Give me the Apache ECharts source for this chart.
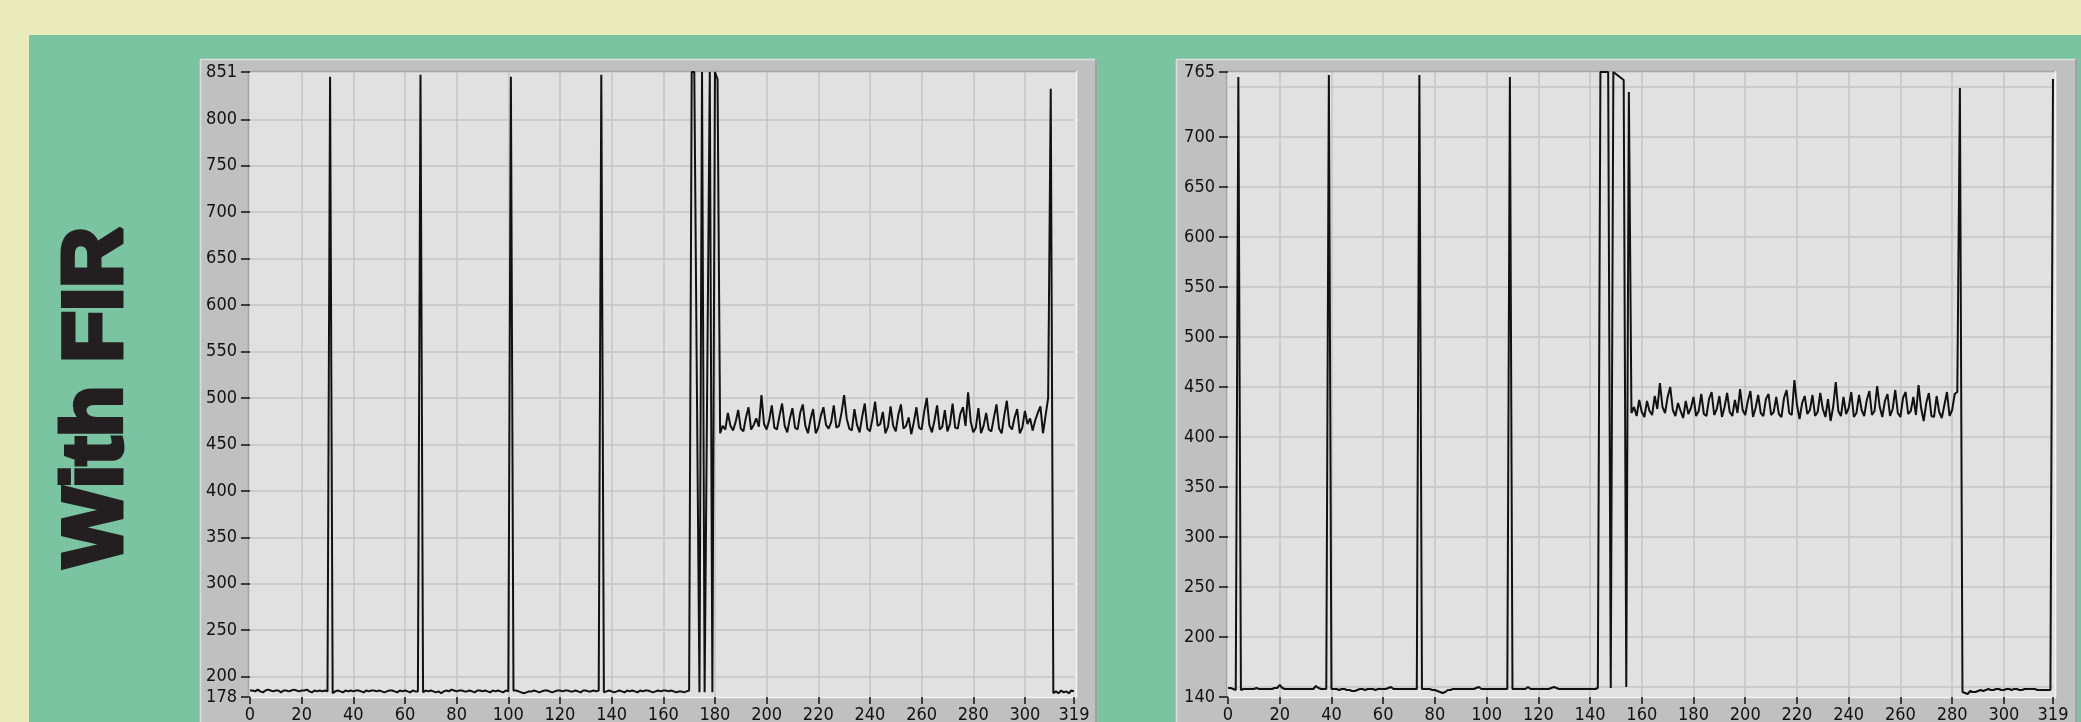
<!DOCTYPE html>
<html>
<head>
<meta charset="utf-8">
<title>With FIR</title>
<script src="https://cdn.jsdelivr.net/npm/echarts@6/dist/echarts.min.js"></script>
<style>
  html, body { margin: 0; padding: 0; background: #eaedbb; }
  #chart { width: 2081px; height: 722px; }
</style>
</head>
<body>
<div id="chart"></div>
<script>
// sample values (index 0..319)
var leftWave = [
  185,185,184,186,184,183,185,186,185,184,
  185,185,183,185,185,184,185,186,185,184,
  185,185,186,184,183,185,184,185,184,185,
  184,846,182,184,185,184,183,185,184,185,
  184,185,185,184,183,185,184,185,185,184,
  185,184,183,184,185,185,184,183,185,184,
  185,184,183,185,184,184,848,183,185,184,
  185,184,183,184,182,184,185,184,186,185,
  184,185,185,184,184,185,184,183,185,185,
  184,185,184,183,185,184,185,184,183,185,
  184,846,185,185,184,183,182,183,184,184,
  185,184,183,184,185,185,184,183,184,185,
  185,184,185,185,184,184,185,184,183,185,
  185,184,184,185,184,185,848,183,184,185,
  184,183,184,185,184,183,185,184,185,184,
  183,185,184,185,185,184,183,184,185,184,
  185,185,184,185,184,183,184,184,183,184,
  185,851,851,515,183,851,183,515,851,183,
  851,843,462,470,466,484,470,465,474,487,
  467,464,479,490,466,471,478,469,503,472,
  466,476,492,468,466,481,494,470,463,478,
  489,468,466,484,493,470,462,477,488,462,
  468,481,490,471,467,474,492,468,470,484,
  503,478,467,465,488,471,463,480,494,467,
  464,478,496,470,472,485,462,469,491,470,
  464,482,493,467,470,479,461,474,490,468,
  466,485,500,471,463,476,492,466,469,487,
  464,472,494,468,467,483,490,470,506,475,
  463,468,489,462,470,484,466,464,479,493,
  467,462,481,497,470,466,479,488,462,468,
  486,472,478,465,476,484,491,462,481,500,
  833,182,184,182,185,183,184,182,185,184
];

var rightWave = [
  149,149,148,147,760,147,148,148,148,148,
  148,149,148,148,148,148,148,148,149,149,
  152,149,148,148,148,148,148,148,148,148,
  148,148,148,148,151,149,148,148,148,762,
  148,148,148,147,148,148,147,147,146,146,
  147,148,148,147,148,148,148,147,148,148,
  148,148,149,150,148,148,148,148,148,148,
  148,148,148,148,762,148,148,148,148,147,
  147,146,145,144,145,147,147,148,148,148,
  148,148,148,148,148,148,149,150,148,148,
  148,148,148,148,148,148,148,148,148,760,
  148,148,148,148,148,148,150,148,148,148,
  148,148,148,148,148,149,150,149,148,148,
  148,148,148,148,148,148,148,148,148,148,
  148,148,148,149,765,765,765,765,149,765,
  763,761,759,757,150,745,424,430,421,437,
  425,420,436,426,422,441,428,454,430,424,
  440,450,427,421,434,426,419,436,423,429,
  440,421,426,443,423,421,438,445,422,428,
  441,420,430,444,425,421,437,424,448,427,
  422,436,446,420,429,442,424,421,438,443,
  422,425,440,423,420,439,447,424,422,457,
  432,418,434,441,423,427,442,421,425,444,
  428,420,438,416,430,455,426,421,440,423,
  429,445,420,424,442,427,421,437,446,422,
  426,451,430,420,436,443,421,428,447,424,
  420,439,445,423,426,440,422,452,429,416,
  434,444,421,420,441,425,419,432,445,421,
  427,443,445,749,145,144,143,146,145,145,
  146,147,146,147,148,147,147,148,148,147,
  147,148,148,147,148,148,147,147,148,148,
  148,148,148,147,147,147,147,147,147,758
];

var xTicks = [0, 20, 40, 60, 80, 100, 120, 140, 160, 180, 200, 220, 240, 260, 280, 300, 319];
var xGrid = [20, 40, 60, 80, 100, 120, 140, 160, 180, 200, 220, 240, 260, 280, 300];
var leftLabels = [178, 200, 250, 300, 350, 400, 450, 500, 550, 600, 650, 700, 750, 800, 851];
var leftGrid = [200, 250, 300, 350, 400, 450, 500, 550, 600, 650, 700, 750, 800];
var rightLabels = [140, 200, 250, 300, 350, 400, 450, 500, 550, 600, 650, 700, 765];
var rightGrid = [150, 200, 250, 300, 350, 400, 450, 500, 550, 600, 650, 700, 750];

var labelFont = '"Liberation Sans Narrow", "DejaVu Sans Condensed", "Liberation Sans", sans-serif';
var gridColor = '#c4c4c4';

function xAxisFor(idx) {
  return {
    type: 'value', gridIndex: idx, min: 0, max: 319,
    axisLine: { show: false },
    axisTick: { show: true, length: 7, customValues: xTicks, lineStyle: { color: '#111', width: 1.5 } },
    axisLabel: { customValues: xTicks, margin: 9, color: '#111', fontSize: 18, fontFamily: labelFont },
    splitLine: { show: false }
  };
}
function xGridAxis(idx) {
  return {
    type: 'value', gridIndex: idx, min: 0, max: 319,
    axisLine: { show: false },
    axisTick: { show: false, customValues: xGrid },
    axisLabel: { show: false },
    splitLine: { show: true, lineStyle: { color: gridColor, width: 1.5 } }
  };
}
function yAxisFor(idx, min, max, labels) {
  return {
    type: 'value', gridIndex: idx, min: min, max: max,
    axisLine: { show: false },
    axisTick: { show: true, length: 9, customValues: labels, lineStyle: { color: '#111', width: 1.5 } },
    axisLabel: { customValues: labels, margin: 13, color: '#111', fontSize: 18, fontFamily: labelFont },
    splitLine: { show: false }
  };
}
function yGridAxis(idx, min, max, lines) {
  return {
    type: 'value', gridIndex: idx, min: min, max: max,
    axisLine: { show: false },
    axisTick: { show: false, customValues: lines },
    axisLabel: { show: false },
    splitLine: { show: true, lineStyle: { color: gridColor, width: 1.5 } }
  };
}

// LabVIEW style panel pieces (frame, inset plot area)
function panel(fx, fw, px, pw) {
  return [
    { type: 'rect', z: -5, shape: { x: fx, y: 59, width: fw, height: 663 }, style: { fill: '#c0c0c0' } },
    { type: 'line', z: -4, shape: { x1: fx, y1: 59.5, x2: fx + fw, y2: 59.5 }, style: { stroke: '#dedede', lineWidth: 1.5 } },
    { type: 'line', z: -4, shape: { x1: fx + 0.5, y1: 59, x2: fx + 0.5, y2: 722 }, style: { stroke: '#dedede', lineWidth: 1.5 } },
    { type: 'line', z: -4, shape: { x1: fx + fw - 1, y1: 59, x2: fx + fw - 1, y2: 722 }, style: { stroke: '#a2a2a2', lineWidth: 2 } },
    { type: 'rect', z: -4, shape: { x: px, y: 71, width: pw, height: 627 }, style: { fill: '#e1e1e1' } },
    { type: 'line', z: -3, shape: { x1: px, y1: 71.5, x2: px + pw, y2: 71.5 }, style: { stroke: '#a5a5a5', lineWidth: 1.5 } },
    { type: 'line', z: -3, shape: { x1: px + 0.5, y1: 71, x2: px + 0.5, y2: 698 }, style: { stroke: '#a5a5a5', lineWidth: 1.5 } },
    { type: 'line', z: -3, shape: { x1: px, y1: 697.5, x2: px + pw, y2: 697.5 }, style: { stroke: '#f4f4f4', lineWidth: 1.5 } },
    { type: 'line', z: -3, shape: { x1: px + pw - 0.5, y1: 71, x2: px + pw - 0.5, y2: 698 }, style: { stroke: '#f4f4f4', lineWidth: 1.5 } }
  ];
}

var chart = echarts.init(document.getElementById('chart'));

var graphics = [
  { type: 'rect', z: -6, shape: { x: 29, y: 35, width: 2052, height: 687 }, style: { fill: '#7bc4a2' } }
].concat(panel(200, 897, 248, 829)).concat(panel(1176, 901, 1226, 830));

// heavy vertical caption, stroked to get the black weight
graphics.push({
  type: 'text', z: 5, x: 98, y: 397, rotation: Math.PI / 2,
  style: {
    text: 'With FIR', x: 0, y: 0,
    font: 'bold 84px "Liberation Sans", "DejaVu Sans", sans-serif',
    fill: '#231f20', stroke: '#231f20', lineWidth: 5,
    align: 'center', verticalAlign: 'middle',
    textAlign: 'center', textVerticalAlign: 'middle'
  }
});

chart.setOption({
  animation: false,
  backgroundColor: '#eaedbb',
  graphic: graphics,
  grid: [
    { left: 250, top: 72, width: 824, height: 625, show: false, containLabel: false, outerBoundsMode: 'none' },
    { left: 1228, top: 72, width: 825, height: 625, show: false, containLabel: false, outerBoundsMode: 'none' }
  ],
  xAxis: [xAxisFor(0), xAxisFor(1), xGridAxis(0), xGridAxis(1)],
  yAxis: [
    yAxisFor(0, 178, 851, leftLabels),
    yAxisFor(1, 140, 765, rightLabels),
    yGridAxis(0, 178, 851, leftGrid),
    yGridAxis(1, 140, 765, rightGrid)
  ],
  series: [
    {
      type: 'line', xAxisIndex: 0, yAxisIndex: 0,
      data: leftWave.map(function (v, i) { return [i, v]; }),
      showSymbol: false, clip: true,
      lineStyle: { color: '#111', width: 2 }
    },
    {
      type: 'line', xAxisIndex: 1, yAxisIndex: 1,
      data: rightWave.map(function (v, i) { return [i, v]; }),
      showSymbol: false, clip: true,
      lineStyle: { color: '#111', width: 2 }
    }
  ]
});
</script>
</body>
</html>
